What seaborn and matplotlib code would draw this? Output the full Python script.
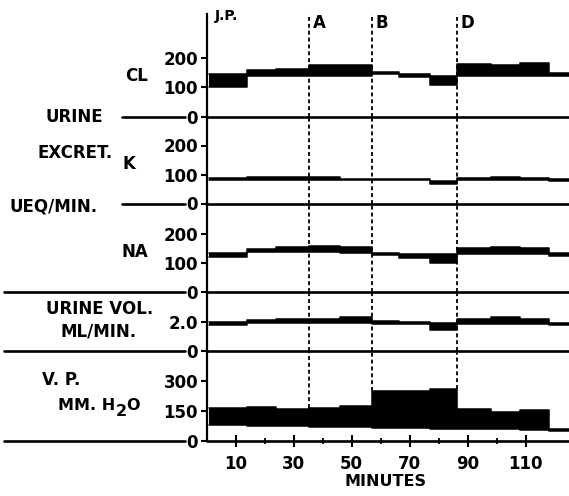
import matplotlib
matplotlib.use("Agg")
import matplotlib.pyplot as plt
import matplotlib.transforms as mtransforms
import seaborn as sns

sns.set_theme(style="white")
plt.rcParams["font.family"] = ["DejaVu Sans"]

# ── Data ───────────────────────────────────────────────────
minute_edges = [1, 14, 24, 35.5, 46, 57, 66.5, 77, 86.5, 98, 108, 118, 125]

cl_low  = [103, 140, 140, 140, 140, 145, 137, 109, 139, 139, 139, 141]
cl_high = [145, 159, 164, 176, 176, 153, 145, 141, 182, 176, 184, 149]

k_low  = [82, 82, 82, 82, 80, 80, 80, 67, 81, 81, 81, 78]
k_high = [88, 91, 93, 93, 86, 86, 86, 77, 89, 90, 89, 84]

na_low  = [120, 137, 137, 137, 134, 128, 118, 101, 132, 130, 130, 125]
na_high = [133, 147, 154, 160, 154, 136, 130, 130, 151, 156, 151, 133]

vol_low  = [1.77, 1.89, 1.89, 1.91, 1.91, 1.86, 1.84, 1.43, 1.82, 1.82, 1.82, 1.77]
vol_high = [2.00, 2.10, 2.18, 2.18, 2.32, 2.05, 2.00, 1.93, 2.18, 2.32, 2.16, 1.93]

vp_low  = [80, 77, 75, 72, 68, 63, 63, 62, 58, 58, 55, 52]
vp_high = [167, 172, 160, 167, 175, 248, 248, 260, 158, 147, 155, 62]

event_names   = ["A", "B", "D"]
event_minutes = [35.5, 57, 86.5]

major_minutes = [10, 30, 50, 70, 90, 110]
minor_minutes = [20, 40, 60, 80, 100]

# ── Layout (pixels of the 569x496 scan) ───────────────────
W, H = 569, 496
SPINE_X = 206.5
fig = plt.figure(figsize=(W / 100, H / 100), dpi=100)
fig.patch.set_facecolor("white")

FONT = dict(fontweight="bold", color="black")

# name, top px, bottom px, ymax, ticks, tick labels, low, high, zero-line start px
panels = [
    ("cl",  14,    116.5, 353,  [0, 100, 200], ["0", "100", "200"], cl_low,  cl_high,  122),
    ("k",   116.5, 203.5, 300,  [0, 100, 200], ["0", "100", "200"], k_low,   k_high,   122),
    ("na",  203.5, 292,   305,  [0, 100, 200], ["0", "100", "200"], na_low,  na_high,  4),
    ("vol", 292,   351,   4.03, [0, 2.0],      ["0", "2.0"],        vol_low, vol_high, 4),
    ("vp",  351,   441,   450,  [0, 150, 300], ["0", "150", "300"], vp_low,  vp_high,  4),
]

axes = []
for name, top, bottom, ymax, ticks, labels, low, high, zstart in panels:
    ax = fig.add_axes([SPINE_X / W, 1 - bottom / H, (W - SPINE_X) / W, (bottom - top) / H])
    ax.set_facecolor("none")
    ax.set_xlim(0, 125)
    ax.set_ylim(0, ymax)
    for side in ["top", "right", "bottom"]:
        ax.spines[side].set_visible(False)
    ax.spines["left"].set_color("black")
    ax.spines["left"].set_linewidth(1.6)

    ax.set_yticks(ticks)
    ax.set_yticklabels(labels, fontsize=12, fontweight="bold")
    ax.tick_params(axis="y", direction="out", length=4, width=1.5, pad=2,
                   colors="black", left=True)
    ax.tick_params(axis="x", bottom=False, labelbottom=False)

    # filled step band
    low_ext = list(low) + [low[-1]]
    high_ext = list(high) + [high[-1]]
    ax.fill_between(minute_edges, low_ext, high_ext, step="post",
                    color="black", linewidth=0, zorder=3)
    sns.lineplot(x=minute_edges, y=high_ext, drawstyle="steps-post",
                 color="black", lw=1.1, ax=ax, zorder=3)
    sns.lineplot(x=minute_edges, y=low_ext, drawstyle="steps-post",
                 color="black", lw=1.1, ax=ax, zorder=3)

    # zero line, extending into the label column
    blend = mtransforms.blended_transform_factory(ax.transAxes, ax.transData)
    ax.plot([0, 1], [0, 0], color="black", lw=1.9, transform=blend,
            clip_on=False, zorder=4)
    x0 = (zstart - SPINE_X) / (W - SPINE_X)
    x1 = (185 - SPINE_X) / (W - SPINE_X)
    ax.plot([x0, x1], [0, 0], color="black", lw=1.9, transform=blend,
            clip_on=False, zorder=4)

    # event markers
    for m, h_left, h_right in zip(event_minutes,
                                  [high[minute_edges.index(e) - 1] for e in event_minutes],
                                  [high[minute_edges.index(e)] for e in event_minutes]):
        y_from = max(h_left, h_right) if name == "vp" else 0
        ax.vlines(m, y_from, ymax, colors="black", linestyles=(0, (2.2, 1.6)),
                  lw=1.3, zorder=2)
    axes.append(ax)

# ── Bottom axis ticks ──────────────────────────────────────
ax_vp = axes[-1]
ax_vp.set_xticks(major_minutes)
ax_vp.set_xticks(minor_minutes, minor=True)
ax_vp.set_xticklabels([str(m) for m in major_minutes], fontsize=12, fontweight="bold")
ax_vp.tick_params(axis="x", which="major", bottom=True, labelbottom=True,
                  direction="inout", length=8, width=1.5, pad=6, colors="black")
ax_vp.tick_params(axis="x", which="minor", bottom=True,
                  direction="inout", length=4, width=1.3, colors="black")

# ── Labels ─────────────────────────────────────────────────
def ftext(x, y, s, size=12, ha="center"):
    fig.text(x / W, 1 - y / H, s, ha=ha, va="center", fontsize=size, **FONT)

ftext(137, 76, "CL")
ftext(74, 117, "URINE")
ftext(75, 153, "EXCRET.")
ftext(129, 164, "K")
ftext(54, 207, "UEQ/MIN.")
ftext(135, 252, "NA")
ftext(100, 309, "URINE VOL.")
ftext(99, 332, "ML/MIN.")
ftext(61, 380, "V. P.")
ftext(58, 405, "MM. H", size=11.5, ha="left")
ftext(116, 411, "2", size=11.5, ha="left")
ftext(126, 405, "O", size=11.5, ha="left")
ftext(385, 481, "MINUTES", size=11.5)
ftext(227, 16, "J.P.", size=10)

ax_cl = axes[0]
for name, m in zip(event_names, event_minutes):
    ax_cl.text(m + 1.2, 1 - 9 / (116.5 - 14), name, transform=mtransforms.blended_transform_factory(
        ax_cl.transData, ax_cl.transAxes), ha="left", va="center", fontsize=12, **FONT)

fig.savefig("out.png", dpi=100, facecolor="white")
